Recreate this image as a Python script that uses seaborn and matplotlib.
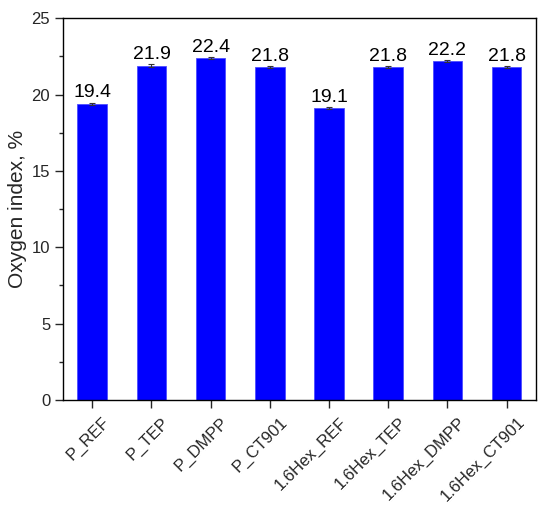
import matplotlib
matplotlib.use("Agg")
import matplotlib.pyplot as plt
import matplotlib.transforms as mtransforms
import seaborn as sns
import pandas as pd
from matplotlib.ticker import MultipleLocator

samples = ["P_REF", "P_TEP", "P_DMPP", "P_CT901",
           "1.6Hex_REF", "1.6Hex_TEP", "1.6Hex_DMPP", "1.6Hex_CT901"]
oxygen_index = [19.4, 21.9, 22.4, 21.8, 19.1, 21.8, 22.2, 21.8]
errors = [0.08, 0.08, 0.08, 0.08, 0.06, 0.08, 0.06, 0.06]

df = pd.DataFrame({"sample": samples, "oi": oxygen_index})

sns.set_theme(style="white")
plt.rcParams['font.family'] = ['Liberation Sans', 'DejaVu Sans']

fig = plt.figure(figsize=(5.5, 5.08), dpi=100)
ax = fig.add_axes([0.114, 0.2126, 0.861, 0.7514])

sns.barplot(data=df, x="sample", y="oi", color="#0000ff", width=0.5,
            edgecolor="#4d4dff", linewidth=0.6, saturation=1, ax=ax)
ax.errorbar(range(len(samples)), oxygen_index, yerr=errors, fmt="none",
            ecolor="#333333", elinewidth=0.8, capsize=2.5, capthick=0.8)

for i, v in enumerate(oxygen_index):
    ax.text(i, v + 0.42, f"{v:.1f}", ha="center", va="baseline", fontsize=14, color="black")

ax.set_xlim(-0.5, 7.5)
ax.set_ylim(0, 25)
ax.yaxis.set_major_locator(MultipleLocator(5))
ax.yaxis.set_minor_locator(MultipleLocator(2.5))
ax.set_xlabel("")
ax.set_ylabel("Oxygen index, %", fontsize=15, labelpad=3)
ax.tick_params(axis="y", which="major", left=True, length=6, width=1, labelsize=12, direction="out", pad=3)
ax.tick_params(axis="y", which="minor", left=True, length=3, width=1, direction="out")
ax.tick_params(axis="x", bottom=True, length=5.5, width=1, labelsize=12, direction="out", pad=5)
offset = mtransforms.ScaledTranslation(10 / 100, 0, fig.dpi_scale_trans)
for lab in ax.get_xticklabels():
    lab.set_rotation(45)
    lab.set_ha("right")
    lab.set_va("top")
    lab.set_rotation_mode("anchor")
    lab.set_transform(lab.get_transform() + offset)
for s in ax.spines.values():
    s.set_visible(True)
    s.set_color("black")
    s.set_linewidth(1)

fig.savefig("out.png", dpi=100)
